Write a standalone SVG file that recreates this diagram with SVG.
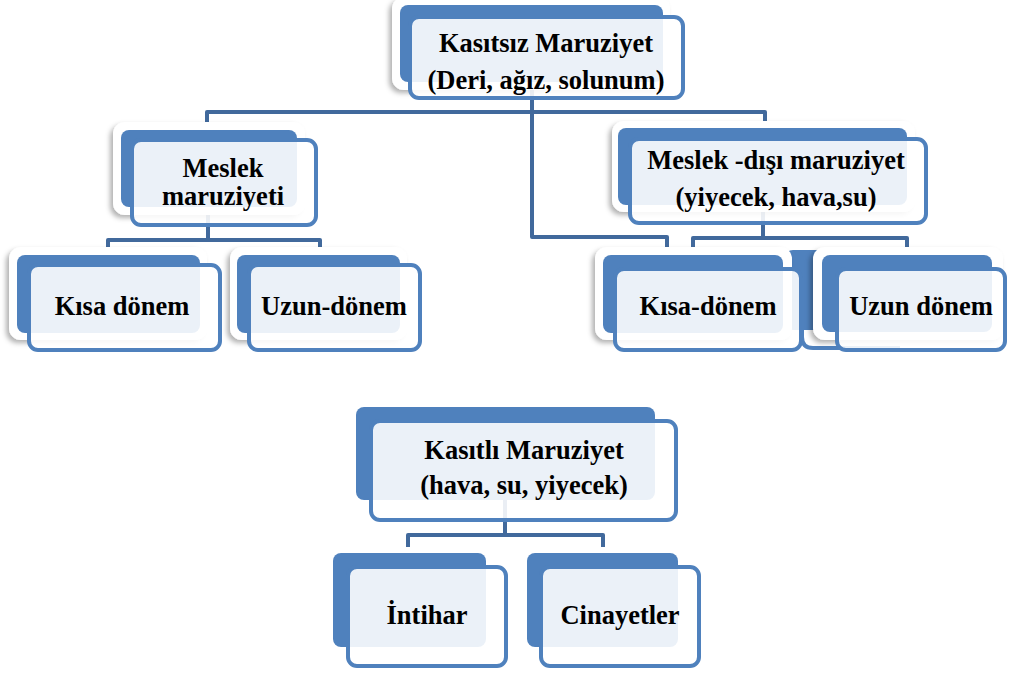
<svg xmlns="http://www.w3.org/2000/svg" width="1009" height="673" viewBox="0 0 1009 673">
<defs>
<filter id="sh" x="-10%" y="-10%" width="120%" height="130%">
<feDropShadow dx="-3" dy="3" stdDeviation="2.5" flood-color="#000" flood-opacity="0.3"/>
</filter>
<style>
.halo{fill:#fff;filter:url(#sh)}
.back{fill:#4F81BD}
.front{fill:#fff;fill-opacity:0.89;stroke:#4F81BD;stroke-width:4}
.conn{fill:none;stroke:#41699C;stroke-width:4;stroke-linejoin:round}
.t{font-family:'Liberation Serif','Times New Roman','DejaVu Serif',serif;font-weight:bold;font-size:26.5px;fill:#000;text-anchor:middle}
</style>
</defs>
<rect width="1009" height="673" fill="#fff"/>
<g id="connectors">
<path class="conn" d="M532,80 V237 H667 V250"/>
<path class="conn" d="M207,122 V112 H765 V122"/>
<path class="conn" d="M208,205 V240"/>
<path class="conn" d="M108,250 V240 H320 V250"/>
<path class="conn" d="M763,205 V238"/>
<path class="conn" d="M693,250 V238 H907 V250"/>
<path class="conn" d="M505,495 V535"/>
<path class="conn" d="M408,547 V535 H603 V547"/>
</g>
<g id="n1">
<rect class="halo" x="392" y="-3" width="278" height="93" rx="12"/>
<rect class="back" x="400" y="5" width="263" height="77" rx="8"/>
<rect class="front" x="410" y="17" width="273" height="81" rx="9"/>
<text class="t" x="546" y="52">Kasıtsız Maruziyet</text>
<text class="t" x="546" y="89">(Deri, ağız, solunum)</text>
</g>
<g id="n2">
<rect class="halo" x="113" y="122" width="192" height="93" rx="12"/>
<rect class="back" x="121" y="130" width="176" height="77" rx="8"/>
<rect class="front" x="132" y="140" width="184" height="85" rx="9"/>
<text class="t" x="223" y="177">Meslek</text>
<text class="t" x="223" y="205">maruziyeti</text>
</g>
<g id="n3">
<rect class="halo" x="612" y="121" width="303" height="91" rx="12"/>
<rect class="back" x="618" y="128" width="289" height="77" rx="8"/>
<rect class="front" x="630" y="139" width="296" height="84" rx="9"/>
<text class="t" x="776" y="169">Meslek -dışı maruziyet</text>
<text class="t" x="776" y="206">(yiyecek, hava,su)</text>
</g>
<g id="n4">
<rect class="halo" x="9" y="247" width="198" height="93" rx="12"/>
<rect class="back" x="17" y="255" width="183" height="78" rx="8"/>
<rect class="front" x="29" y="265" width="191" height="85" rx="9"/>
<text class="t" x="122" y="315">Kısa dönem</text>
</g>
<g id="n5">
<rect class="halo" x="230" y="247" width="177" height="93" rx="12"/>
<rect class="back" x="237" y="255" width="163" height="78" rx="8"/>
<rect class="front" x="249" y="265" width="171" height="85" rx="9"/>
<text class="t" x="334" y="315">Uzun-dönem</text>
</g>
<g id="n-hidden">
<rect class="back" x="785" y="250" width="185" height="80" rx="8"/>
<path d="M802,290 V337 Q802,348 813,348 H900" fill="none" stroke="#4F81BD" stroke-width="4"/>
</g>
<g id="n6">
<rect class="halo" x="595" y="247" width="197" height="93" rx="12"/>
<rect class="back" x="603" y="255" width="180" height="78" rx="8"/>
<rect class="front" x="615" y="269" width="186" height="81" rx="9"/>
<text class="t" x="708" y="315">Kısa-dönem</text>
</g>
<g id="n7">
<rect class="halo" x="813" y="247" width="190" height="93" rx="12"/>
<rect class="back" x="822" y="255" width="170" height="77" rx="8"/>
<rect class="front" x="837" y="269" width="168" height="81" rx="9"/>
<text class="t" x="921" y="315">Uzun dönem</text>
</g>
<g id="n8">
<rect class="back" x="356" y="407" width="299" height="93" rx="8"/>
<rect class="front" x="371" y="421" width="305" height="99" rx="9"/>
<text class="t" x="524" y="459">Kasıtlı Maruziyet</text>
<text class="t" x="524" y="494">(hava, su, yiyecek)</text>
</g>
<g id="n9">
<rect class="back" x="333" y="553" width="153" height="94" rx="8"/>
<rect class="front" x="348" y="567" width="158" height="99" rx="9"/>
<text class="t" x="427" y="624">İntihar</text>
</g>
<g id="n10">
<rect class="back" x="527" y="553" width="151" height="94" rx="8"/>
<rect class="front" x="541" y="567" width="158" height="99" rx="9"/>
<text class="t" x="620" y="624">Cinayetler</text>
</g>
</svg>
